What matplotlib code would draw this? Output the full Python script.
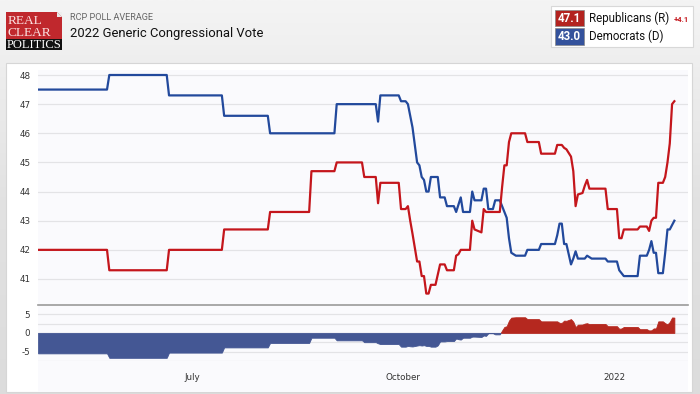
import numpy as np
import pandas as pd
import matplotlib
matplotlib.use("Agg")
import matplotlib.pyplot as plt
from matplotlib.patches import Rectangle, Polygon
from datetime import datetime, timedelta

# ---------------- data ----------------
dates = [
    "2021-04-25", "2021-05-25", "2021-05-26", "2021-06-20", "2021-06-21", "2021-07-14",
    "2021-07-15", "2021-08-03", "2021-08-04", "2021-08-21", "2021-08-22", "2021-09-01",
    "2021-09-02", "2021-09-13", "2021-09-14", "2021-09-19", "2021-09-20", "2021-09-21",
    "2021-09-29", "2021-09-30", "2021-10-02", "2021-10-03", "2021-10-04", "2021-10-05",
    "2021-10-07", "2021-10-08", "2021-10-09", "2021-10-10", "2021-10-11", "2021-10-12",
    "2021-10-13", "2021-10-15", "2021-10-16", "2021-10-17", "2021-10-19", "2021-10-20",
    "2021-10-23", "2021-10-24", "2021-10-25", "2021-10-26", "2021-10-27", "2021-10-30",
    "2021-10-31", "2021-11-01", "2021-11-04", "2021-11-05", "2021-11-06", "2021-11-07",
    "2021-11-09", "2021-11-10", "2021-11-12", "2021-11-13", "2021-11-14", "2021-11-15",
    "2021-11-16", "2021-11-17", "2021-11-19", "2021-11-23", "2021-11-24", "2021-11-29",
    "2021-11-30", "2021-12-06", "2021-12-07", "2021-12-08", "2021-12-09", "2021-12-10",
    "2021-12-11", "2021-12-13", "2021-12-14", "2021-12-15", "2021-12-16", "2021-12-18",
    "2021-12-19", "2021-12-20", "2021-12-21", "2021-12-22", "2021-12-28", "2021-12-29",
    "2022-01-02", "2022-01-03", "2022-01-04", "2022-01-05", "2022-01-11", "2022-01-12",
    "2022-01-15", "2022-01-16", "2022-01-17", "2022-01-18", "2022-01-19", "2022-01-20",
    "2022-01-22", "2022-01-23", "2022-01-24", "2022-01-25", "2022-01-26", "2022-01-27",
]
republicans = [
    42.0, 42.0, 41.3, 41.3, 42.0, 42.0,
    42.7, 42.7, 43.3, 43.3, 44.7, 44.7,
    45.0, 45.0, 44.5, 44.5, 43.6, 44.3,
    44.3, 43.4, 43.4, 43.5, 43.0, 42.55,
    41.6, 41.6, 41.1, 41.1, 40.5, 40.5,
    40.8, 40.8, 41.15, 41.5, 41.5, 41.3,
    41.3, 41.8, 41.85, 42.0, 42.0, 42.0,
    43.0, 42.7, 42.6, 43.4, 43.3, 43.3,
    43.3, 43.3, 43.3, 44.15, 44.9, 44.9,
    45.7, 46.0, 46.0, 46.0, 45.7, 45.7,
    45.3, 45.3, 45.6, 45.6, 45.6, 45.5,
    45.45, 45.2, 44.7, 43.5, 43.9, 43.95,
    44.2, 44.4, 44.1, 44.1, 44.1, 43.4,
    43.4, 42.4, 42.4, 42.7, 42.7, 42.8,
    42.8, 42.65, 43.0, 43.1, 43.1, 44.3,
    44.3, 44.5, 45.0, 45.65, 47.0, 47.1,
]
democrats = [
    47.5, 47.5, 48.0, 48.0, 47.3, 47.3,
    46.6, 46.6, 46.0, 46.0, 46.0, 46.0,
    47.0, 47.0, 47.0, 47.0, 46.4, 47.3,
    47.3, 47.1, 47.1, 47.0, 46.6, 46.2,
    45.0, 44.9, 44.5, 44.4, 44.0, 44.0,
    44.5, 44.5, 44.5, 43.8, 43.8, 43.5,
    43.5, 43.3, 43.55, 43.8, 43.3, 43.3,
    44.0, 43.7, 43.7, 44.1, 44.1, 43.4,
    43.4, 43.7, 43.7, 43.5, 43.3, 43.1,
    42.4, 41.9, 41.8, 41.8, 42.0, 42.0,
    42.2, 42.2, 42.5, 42.9, 42.9, 42.2,
    42.2, 41.5, 41.7, 41.95, 41.7, 41.7,
    41.7, 41.8, 41.75, 41.7, 41.7, 41.6,
    41.6, 41.3, 41.2, 41.1, 41.1, 41.8,
    41.8, 42.0, 42.3, 41.9, 41.9, 41.2,
    41.2, 41.9, 42.7, 42.7, 42.85, 43.0,
]
main_yticks = [41, 42, 43, 44, 45, 46, 47, 48]
spread_yticks = [-5, 0, 5]
xtick_dates = ["2021-07-01", "2021-10-01", "2022-01-01"]
xtick_labels = ["July", "October", "2022"]
legend_names = ["Republicans (R)", "Democrats (D)"]
legend_values = ["47.1", "43.0"]
lead_text = "+4.1"

# ---------------- styling ----------------
W, H = 700, 394
RED = "#c4161c"
BLUE = "#22499c"
RED_FILL = "#b5281f"
BLUE_FILL = "#445794"
GRID = "#e3e3e6"
TXT = "#333333"

x = pd.to_datetime(dates)
rep = np.array(republicans)
dem = np.array(democrats)
spread = rep - dem

fig = plt.figure(figsize=(W / 100, H / 100), dpi=100)


def fx(px):
    return px / W


def fy(py):
    return 1 - py / H


# background gradient
bg = fig.add_axes([0, 0, 1, 1], zorder=-10)
grad = np.linspace(0, 1, 200).reshape(-1, 1)
cmap = matplotlib.colors.LinearSegmentedColormap.from_list("g", ["#f4f4f4", "#e2e2e2", "#dcdcdc"])
bg.imshow(grad, aspect="auto", cmap=cmap, extent=[0, 1, 0, 1])
bg.set_axis_off()

# white panel
fig.patches.append(Rectangle((fx(6), fy(392)), fx(686), (392 - 63) / H,
                             transform=fig.transFigure, facecolor="white",
                             edgecolor="#d6d6d6", linewidth=0.8, zorder=-5))
# plot-area tint
fig.patches.append(Rectangle((fx(38), fy(392)), fx(650), (392 - 70) / H,
                             transform=fig.transFigure, facecolor="#fafafd",
                             edgecolor="none", zorder=-4))

# logo
fig.patches.append(Rectangle((fx(6), fy(49)), fx(56), 37 / H, transform=fig.transFigure,
                             facecolor="#c0282d", edgecolor="none"))
fig.patches.append(Rectangle((fx(6), fy(49.5)), fx(56), 10.5 / H, transform=fig.transFigure,
                             facecolor="#111111", edgecolor="none"))
fig.patches.append(Polygon([(fx(57), fy(12)), (fx(62), fy(17)), (fx(57), fy(17))],
                           closed=True, transform=fig.transFigure,
                           facecolor="#e8e8e8", edgecolor="none"))
fig.patches.append(Polygon([(fx(57), fy(12)), (fx(62), fy(12)), (fx(62), fy(17))],
                           closed=True, transform=fig.transFigure,
                           facecolor="#eeeeee", edgecolor="none"))
fig.text(fx(7.5), fy(21.5), "REAL", family="Liberation Serif", fontsize=9.6,
         color="#fbe3e3", va="center", ha="left")
fig.text(fx(7.5), fy(32.5), "CLEAR", family="Liberation Serif", fontsize=9.6,
         color="#fbe3e3", va="center", ha="left")
fig.text(fx(34), fy(44.5), "POLITICS", family="Liberation Serif", fontsize=9.0,
         color="white", va="center", ha="center")

# titles
fig.text(fx(70), fy(17), "RCP POLL AVERAGE", family="Roboto", fontsize=6.6,
         color="#666666", va="center", ha="left")
fig.text(fx(70), fy(33), "2022 Generic Congressional Vote", family="Roboto",
         fontsize=9.4, color="#111111", va="center", ha="left")

# legend box
fig.patches.append(Rectangle((fx(551), fy(47)), fx(142), 41 / H, transform=fig.transFigure,
                             facecolor="white", edgecolor="#d8d8d8", linewidth=0.8))
for i, (name, val, col) in enumerate(zip(legend_names, legend_values, ["#b3231f", "#34529c"])):
    ytop = 10 + i * 18.5
    fig.patches.append(Rectangle((fx(555), fy(ytop + 16)), fx(29), 16 / H,
                                 transform=fig.transFigure, facecolor=col,
                                 edgecolor="#888888", linewidth=0.5))
    fig.text(fx(569.5), fy(ytop + 8.3), val, family="Roboto", fontsize=8.3,
             fontweight="bold", color="white", va="center", ha="center")
    fig.text(fx(589), fy(ytop + 8.3), name, family="Roboto", fontsize=8.3,
             color="#111111", va="center", ha="left")
fig.text(fx(674), fy(19.5), lead_text, family="Roboto", fontsize=5.5,
         fontweight="bold", color="#c4161c", va="center", ha="left")

# axes geometry
x0 = pd.Timestamp("2021-07-01")
px_per_day = 2.297
xl = (x0 + pd.Timedelta(days=(38 - 192) / px_per_day),
      x0 + pd.Timedelta(days=(688 - 192) / px_per_day))

ax = fig.add_axes([fx(38), fy(305), fx(650), (305 - 66) / H])
ax.set_facecolor("none")
ax.plot(x, dem, color=BLUE, lw=1.6, solid_joinstyle="round", zorder=3)
ax.plot(x, rep, color=RED, lw=1.6, solid_joinstyle="round", zorder=3)
ax.set_xlim(xl)
ax.set_ylim(41 - 26 / 29.14, 48 + 9 / 29.14)
ax.set_yticks(main_yticks)
ax.set_yticklabels([str(t) for t in main_yticks])
ax.grid(axis="y", color=GRID, lw=0.9)
ax.set_axisbelow(True)
for s in ["top", "left", "right"]:
    ax.spines[s].set_visible(False)
ax.spines["bottom"].set_color("#9a9a9a")
ax.spines["bottom"].set_linewidth(1.2)
ax.tick_params(axis="y", length=0, pad=5.5, labelsize=6.3, labelcolor=TXT)
ax.tick_params(axis="x", length=0, labelbottom=False)

ax2 = fig.add_axes([fx(38), fy(361), fx(650), (361 - 306) / H])
ax2.set_facecolor("none")
ax2.fill_between(x, spread, 0, where=spread >= 0, interpolate=True,
                 color=RED_FILL, lw=0.6, edgecolor=RED_FILL, zorder=3)
ax2.fill_between(x, spread, 0, where=spread <= 0, interpolate=True,
                 color=BLUE_FILL, lw=0.6, edgecolor=BLUE_FILL, zorder=3)
ax2.set_xlim(xl)
ax2.set_ylim(-7.55, 7.22)
ax2.set_yticks([-7.5, -5, -2.5, 0, 2.5, 5])
ax2.set_yticklabels(["", "-5", "", "0", "", "5"])
ax2.grid(axis="y", color=GRID, lw=0.9)
ax2.set_axisbelow(True)
for s in ax2.spines.values():
    s.set_visible(False)
ax2.tick_params(axis="y", length=0, pad=5.5, labelsize=6.3, labelcolor=TXT)
ax2.set_xticks(pd.to_datetime(xtick_dates))
ax2.set_xticklabels(xtick_labels)
ax2.tick_params(axis="x", length=0, pad=9, labelsize=6.3, labelcolor=TXT)

fig.savefig("out.png", dpi=100)
